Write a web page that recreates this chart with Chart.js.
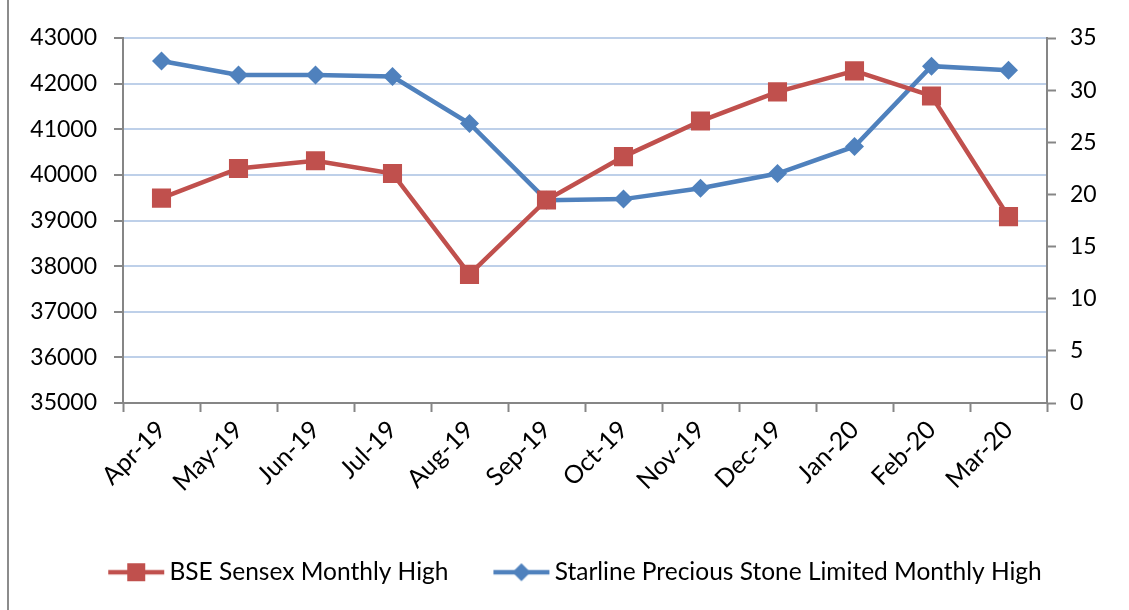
<!DOCTYPE html>
<html>
<head>
<meta charset="utf-8">
<script src="https://cdn.jsdelivr.net/npm/chart.js@4.4.0/dist/chart.umd.min.js"></script>
<style>
  html, body { margin: 0; padding: 0; background: #fff; }
  #wrap { position: relative; width: 1129px; height: 610px; }
  #frame { position: absolute; left: 7px; top: 0; width: 0; height: 610px; border-left: 2px solid #8c8c8c; }
  canvas { position: absolute; left: 0; top: 0; }
</style>
</head>
<body>
<div id="wrap">
  <div id="frame"></div>
  <canvas id="chart" width="1129" height="610"></canvas>
</div>
<script>
const months = ["Apr-19", "May-19", "Jun-19", "Jul-19", "Aug-19", "Sep-19",
                "Oct-19", "Nov-19", "Dec-19", "Jan-20", "Feb-20", "Mar-20"];
const sensexHigh = [39490, 40140, 40310, 40030, 37820, 39450,
                    40400, 41180, 41820, 42280, 41730, 39085];
const starlineHigh = [32.8, 31.45, 31.45, 31.3, 26.8, 19.45,
                      19.55, 20.6, 22.0, 24.6, 32.3, 31.9];

const RED = "#C0504D";
const BLUE = "#4F81BD";
const AXIS = "#868686";
const GRID = "#BED0E9";
const FONT = "Lato";

// little line+marker pictures for the legend
function legendIcon(color, shape) {
  const c = document.createElement("canvas");
  c.width = 58; c.height = 24;
  const g = c.getContext("2d");
  g.strokeStyle = color;
  g.lineWidth = 4.5;
  g.beginPath();
  g.moveTo(1, 12); g.lineTo(57, 12);
  g.stroke();
  g.fillStyle = color;
  if (shape === "square") {
    g.fillRect(29 - 9, 12 - 9, 18, 18);
  } else {
    g.beginPath();
    g.moveTo(29, 3); g.lineTo(38, 12); g.lineTo(29, 21); g.lineTo(20, 12);
    g.closePath();
    g.fill();
  }
  return c;
}
const icons = [legendIcon(RED, "square"), legendIcon(BLUE, "diamond")];

// fixed legend height, and nudge it a bit right like the original
const legendTweak = {
  id: "legendTweak",
  beforeInit(chart) {
    const lg = chart.legend;
    const origFit = lg.fit;
    lg.fit = function () {
      origFit.bind(lg)();
      this.height = 102;
    };
    const origDraw = lg.draw;
    lg.draw = function () {
      const ctx = chart.ctx;
      ctx.save();
      ctx.translate(14, 0);
      origDraw.bind(lg)();
      ctx.restore();
    };
  }
};

new Chart(document.getElementById("chart"), {
  type: "line",
  data: {
    labels: months,
    datasets: [
      {
        label: "BSE Sensex Monthly High",
        data: sensexHigh,
        yAxisID: "y",
        borderColor: RED,
        backgroundColor: RED,
        borderWidth: 4.5,
        pointStyle: "rect",
        pointRadius: 13.5,
        pointHoverRadius: 13.5,
        pointBorderWidth: 0,
        tension: 0
      },
      {
        label: "Starline Precious Stone Limited Monthly High",
        data: starlineHigh,
        yAxisID: "y1",
        borderColor: BLUE,
        backgroundColor: BLUE,
        borderWidth: 4.5,
        pointStyle: "rectRot",
        pointRadius: 9.5,
        pointHoverRadius: 9.5,
        pointBorderWidth: 0,
        tension: 0
      }
    ]
  },
  options: {
    responsive: false,
    animation: false,
    layout: { padding: { top: 38, left: 0, right: 0, bottom: 0 } },
    plugins: {
      tooltip: { enabled: false },
      legend: {
        position: "bottom",
        labels: {
          color: "#000",
          font: { family: FONT, size: 24.5 },
          usePointStyle: true,
          pointStyleWidth: 42,
          padding: 52,
          generateLabels(chart) {
            return chart.data.datasets.map((ds, i) => ({
              text: ds.label,
              pointStyle: icons[i],
              fillStyle: ds.borderColor,
              strokeStyle: ds.borderColor,
              lineWidth: 0,
              fontColor: "#000",
              hidden: false,
              datasetIndex: i
            }));
          }
        }
      }
    },
    scales: {
      x: {
        offset: true,
        grid: {
          offset: true,
          drawOnChartArea: false,
          drawTicks: true,
          tickLength: 9,
          tickColor: AXIS,
          tickWidth: 2
        },
        border: { color: AXIS, width: 2 },
        ticks: {
          color: "#000",
          font: { family: FONT, size: 25 },
          minRotation: 45,
          maxRotation: 45,
          padding: 3
        },
        afterFit(scale) { scale.height = 105; }
      },
      y: {
        position: "left",
        min: 35000,
        max: 43000,
        grid: {
          color: GRID,
          lineWidth: 2,
          tickLength: 9,
          tickColor: AXIS,
          tickWidth: 2
        },
        border: { color: AXIS, width: 2 },
        ticks: {
          stepSize: 1000,
          color: "#000",
          font: { family: FONT, size: 23 },
          padding: 17,
          callback: (v) => String(v)
        },
        afterFit(scale) { scale.width = 123; }
      },
      y1: {
        position: "right",
        min: 0,
        max: 35,
        grid: {
          drawOnChartArea: false,
          tickLength: 9,
          tickColor: AXIS,
          tickWidth: 2
        },
        border: { color: AXIS, width: 2 },
        ticks: {
          stepSize: 5,
          color: "#000",
          font: { family: FONT, size: 23 },
          padding: 14,
          callback: (v) => String(v)
        },
        afterFit(scale) { scale.width = 82; }
      }
    }
  },
  plugins: [legendTweak]
});
</script>
</body>
</html>
